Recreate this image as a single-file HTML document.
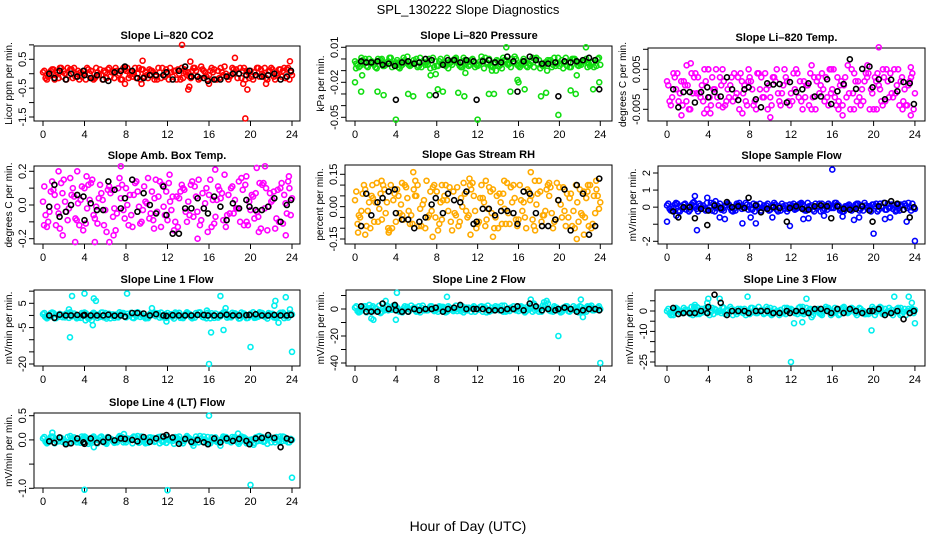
<!DOCTYPE html>
<html><head><meta charset="utf-8"><title>SPL_130222 Slope Diagnostics</title>
<style>
html,body{margin:0;padding:0;background:#fff;}
svg{display:block;font-family:"Liberation Sans",Arial,sans-serif;}
</style></head>
<body>
<svg id="chart" width="936" height="540" viewBox="0 0 936 540" xmlns="http://www.w3.org/2000/svg">
<rect x="0" y="0" width="936" height="540" fill="#fff"/>
<text x="468" y="14" font-size="13" text-anchor="middle">SPL_130222  Slope Diagnostics</text>
<text x="468" y="531" font-size="14" text-anchor="middle">Hour of Day (UTC)</text>
</svg>
<script>
const hoursA=[0,0.5,1,1.5,2,2.5,3,3.5,4,4.5,5,5.5,6,6.5,7,7.5,8,8.5,9,9.5,10,10.5,11,11.5,12,12.5,13,13.5,14,14.5,15,15.5,16,16.5,17,17.5,18,18.5,19,19.5,20,20.5,21,21.5,22,22.5,23,23.5,24];
const hoursB=[0.25,0.75,1.25,1.75,2.25,2.75,3.25,3.75,4.25,4.75,5.25,5.75,6.25,6.75,7.25,7.75,8.25,8.75,9.25,9.75,10.25,10.75,11.25,11.75,12.25,12.75,13.25,13.75,14.25,14.75,15.25,15.75,16.25,16.75,17.25,17.75,18.25,18.75,19.25,19.75,20.25,20.75,21.25,21.75,22.25,22.75,23.25,23.75];
const hoursC=[0.125,0.625,1.125,1.625,2.125,2.625,3.125,3.625,4.125,4.625,5.125,5.625,6.125,6.625,7.125,7.625,8.125,8.625,9.125,9.625,10.125,10.625,11.125,11.625,12.125,12.625,13.125,13.625,14.125,14.625,15.125,15.625,16.125,16.625,17.125,17.625,18.125,18.625,19.125,19.625,20.125,20.625,21.125,21.625,22.125,22.625,23.125,23.625];
const hoursD=[0.375,0.875,1.375,1.875,2.375,2.875,3.375,3.875,4.375,4.875,5.375,5.875,6.375,6.875,7.375,7.875,8.375,8.875,9.375,9.875,10.375,10.875,11.375,11.875,12.375,12.875,13.375,13.875,14.375,14.875,15.375,15.875,16.375,16.875,17.375,17.875,18.375,18.875,19.375,19.875,20.375,20.875,21.375,21.875,22.375,22.875,23.375,23.875];
const blackHours=[0.6,1.1,1.6,2.2,2.7,3.3,3.9,4.0,4.6,5.2,5.8,6.3,6.9,7.5,7.9,8.6,9.1,9.7,10.3,10.9,11.6,11.9,12.5,13.1,13.7,14.3,14.9,15.5,15.9,16.5,17.1,17.7,18.3,18.9,19.6,19.9,20.5,21.1,21.7,22.3,22.9,23.5,23.9];
const xTicks=[0,4,8,12,16,20,24];

const co2BandA=[0.05,-0.1,0.15,-0.15,0.1,-0.05,0.2,-0.2,0.1,0,-0.15,0.15,0.05,-0.1,0.2,-0.2,0.1,0.05,-0.15,0.15,-0.05,0.1,-0.2,0.2,0,-0.1,0.15,-0.15,0.05,0.2,-0.2,0.1,-0.05,0.15,-0.15,0.25,-0.1,0.05,0.2,-0.2,0.1,-0.05,0.15,-0.15,0.2,0,-0.1,0.15,-0.05];
const co2BandB=[-0.15,0.1,-0.05,0.2,-0.2,0.15,0,-0.1,0.2,-0.15,0.05,-0.2,0.15,0.1,-0.05,0.2,-0.15,0,0.2,-0.1,0.15,-0.2,0.05,-0.1,0.2,0.1,-0.2,0.05,-0.15,0.1,0.25,-0.1,0.2,-0.2,0.05,-0.1,0.2,-0.15,0.1,0.05,-0.2,0.2,-0.05,0.1,-0.1,0.15,0.2,-0.2];
const co2BandC=[0.1,-0.05,-0.2,0.2,0,0.15,-0.1,0.05,-0.2,0.1,0.2,-0.05,-0.15,0.05,0.1,-0.2,0.2,-0.1,0,0.15,-0.15,0.05,0.2,-0.05,-0.2,0.1,0,0.15,-0.1,0.2,-0.15,0.05,0.1,-0.2,0.2,0,-0.05,0.15,-0.15,0.1,-0.1,0.2,0,-0.2,0.15,-0.05,0.1,0.2];
const co2BandD=[-0.2,0.15,0.05,-0.1,0.2,-0.15,0.1,0,0.15,-0.2,-0.05,0.1,0.2,-0.15,0,0.15,-0.05,0.2,-0.2,0.05,0.1,-0.1,-0.15,0.15,0.05,-0.2,0.2,-0.05,0.1,-0.1,0.15,-0.2,0.05,0.1,-0.05,-0.2,0.15,0,0.2,-0.15,0.05,-0.1,0.2,0.1,-0.2,0.15,-0.15,0.05];
const co2Black=[0,-0.15,0.1,-0.2,0,-0.1,0.1,-0.05,-0.15,-0.05,-0.2,-0.25,0.05,0.1,0.25,0.1,-0.15,-0.15,-0.05,-0.05,-0.05,0.05,-0.2,0.1,0.25,-0.1,-0.1,-0.15,-0.25,-0.2,-0.2,-0.1,0,0,-0.05,0.1,-0.05,-0.1,-0.05,0,-0.2,-0.1,0.1];
const co2Out=[[13.4,1.0],[19.5,-1.55],[9.6,0.45],[14.2,0.42],[18.5,0.55],[14,-0.55],[14.1,-0.45],[19.7,-0.55],[23.8,0.43],[9.5,-0.35],[21.5,-0.35],[7.9,-0.35],[16,-0.35],[19.3,-0.35]];

const presBandA=[-0.002,-0.006,0,-0.004,-0.007,-0.001,-0.005,0.001,-0.003,-0.006,-0.002,-0.005,0,-0.007,-0.003,-0.001,-0.006,-0.004,0.001,-0.005,-0.002,-0.007,-0.003,0,-0.006,-0.001,-0.004,-0.007,-0.002,0.001,-0.005,-0.003,-0.006,0,-0.004,-0.007,-0.001,-0.005,-0.002,0.001,-0.006,-0.003,-0.007,0,-0.004,-0.002,-0.006,-0.001,-0.005];
const presBandB=[-0.005,-0.001,-0.007,-0.003,0,-0.006,-0.002,-0.004,-0.007,0.001,-0.005,-0.001,-0.006,-0.003,0,-0.007,-0.002,-0.005,-0.004,0,-0.006,-0.001,-0.005,-0.007,-0.002,0.001,-0.006,-0.003,-0.005,-0.001,-0.007,0,-0.004,-0.006,-0.002,0.001,-0.005,-0.003,-0.007,-0.004,-0.001,-0.006,0,-0.005,-0.002,-0.007,-0.003,0];
const presBandC=[-0.004,0.001,-0.006,-0.002,-0.008,0,-0.003,-0.007,-0.001,-0.005,0.002,-0.004,-0.007,-0.002,-0.005,0.001,-0.006,-0.003,-0.008,-0.001,-0.004,0.001,-0.006,-0.002,-0.005,-0.008,0,-0.003,-0.006,-0.001,-0.004,0.002,-0.007,-0.002,-0.005,0,-0.008,-0.003,-0.001,-0.006,-0.004,0.001,-0.007,-0.002,-0.005,0,-0.003,-0.006];
const presBandD=[-0.007,-0.003,0,-0.005,-0.002,-0.006,0.001,-0.004,-0.008,-0.001,-0.006,-0.003,0.001,-0.005,-0.008,-0.002,0,-0.006,-0.003,0.001,-0.007,-0.004,-0.001,-0.005,0.002,-0.003,-0.006,-0.001,-0.008,-0.004,0,-0.005,-0.002,-0.007,0.001,-0.004,-0.006,-0.001,-0.005,0.001,-0.008,-0.003,0,-0.006,-0.002,-0.004,-0.007,0.001];
const presBlack=[-0.002,-0.003,-0.003,-0.002,-0.005,-0.004,-0.006,-0.035,-0.003,-0.002,-0.004,-0.003,0,-0.001,-0.031,-0.005,-0.001,-0.001,-0.003,-0.001,-0.002,-0.035,-0.002,-0.001,-0.003,-0.003,0.002,-0.002,-0.028,-0.002,0.002,-0.001,-0.004,-0.004,-0.003,-0.032,-0.002,-0.003,-0.002,-0.001,0.001,-0.001,-0.026];
const presOut=[[0,-0.02],[0.1,-0.008],[0.6,-0.028],[0.7,-0.014],[2.2,-0.028],[2.8,-0.031],[4,-0.052],[4.3,-0.003],[5.2,-0.03],[5.7,-0.032],[7.3,-0.031],[7.4,-0.014],[7.9,-0.013],[8.1,-0.026],[8.6,-0.028],[10.1,-0.029],[10.7,-0.032],[10.8,-0.012],[12,-0.052],[13.1,-0.03],[13.6,-0.03],[13.4,-0.01],[13.8,-0.01],[14.8,0.01],[15.2,-0.028],[15.9,-0.018],[16.0,-0.02],[16.6,-0.026],[18.2,-0.032],[18.7,-0.029],[18.8,-0.01],[19.9,-0.048],[21.1,-0.027],[21.6,-0.03],[21.7,-0.014],[22.6,0.01],[23.3,-0.026],[23.9,-0.02]];

const tempBandA=[0.002,-0.002,0.004,-0.004,0.001,-0.001,0.003,-0.003,0.005,0,-0.004,0.002,-0.002,0.004,-0.005,0.001,0.003,-0.003,0,0.004,-0.002,0.002,-0.004,0.003,-0.001,0.005,-0.003,0.001,-0.005,0.002,0.004,-0.002,0,0.003,-0.004,0.006,-0.001,0.002,-0.003,0.004,-0.005,0.001,0.003,-0.002,0.005,-0.004,0,0.002,-0.001];
const tempBandB=[-0.003,0.003,-0.001,0.001,-0.005,0.004,-0.002,0.002,-0.004,0.005,0.001,-0.003,0.003,-0.001,0.002,-0.004,0,0.004,-0.002,-0.005,0.003,-0.001,0.001,-0.003,0.004,-0.002,0.002,-0.004,0.003,-0.001,-0.003,0.005,-0.002,0.001,0.003,-0.005,0.002,-0.004,0.004,0,0.002,-0.003,0.005,-0.001,0.001,0.003,-0.004,0.004];
const tempBandC=[0.001,0.004,-0.003,0.002,-0.005,0.003,-0.001,0.005,-0.002,0,0.003,-0.004,0.001,-0.002,0.004,-0.003,0.002,-0.005,0.003,0,-0.004,0.005,-0.001,0.002,-0.003,0.004,-0.005,0.001,-0.002,0.003,0,-0.004,0.005,-0.003,0.001,-0.001,0.004,-0.002,0.002,-0.005,0.003,0,-0.003,0.004,-0.001,0.002,-0.004,0.003];
const tempBandD=[-0.004,0,0.002,-0.003,0.004,-0.001,0.001,-0.005,0.003,-0.002,0.005,0,-0.003,0.003,-0.001,0.002,-0.004,0.004,-0.002,0.001,0.003,-0.003,0.005,-0.004,0,0.002,-0.002,0.004,-0.005,0.001,0.003,-0.001,-0.004,0.002,-0.002,0.005,-0.003,0,0.003,-0.001,0.004,-0.004,0.002,-0.002,0.005,-0.003,0.001,-0.005];
const tempBlack=[0,-0.0045,-0.0007,-0.0007,-0.0033,-0.0007,0.0005,-0.002,-0.0007,-0.0018,0.003,0,-0.0027,0,0.0005,-0.0025,-0.0045,0.0015,0.0012,0.0013,-0.0033,0.0018,-0.0007,0,0.0015,-0.0018,-0.0018,0.0025,-0.0037,-0.0005,0.0013,0.0075,0.0001,0.0051,0.0057,0.0005,0.0025,-0.0025,0.0024,-0.0005,0.0018,0.0015,-0.0037];
const tempOut=[[1.4,-0.0065],[1.9,0.006],[2.3,0.0065],[3.6,-0.006],[4.2,-0.006],[4.0,0.005],[5.4,-0.0045],[7.3,-0.006],[7.9,0.005],[10.0,-0.007],[14.0,0.006],[15.9,0.005],[16.6,-0.005],[17.0,-0.0065],[18.1,-0.005],[19.4,0.006],[20.5,0.0105],[20.9,0.005],[22.8,-0.005],[23.6,0.0055],[23.6,-0.0065],[20.3,-0.005]];

const ambBandA=[0.02,-0.1,0.09,-0.05,0.15,-0.02,0.05,-0.12,0.1,0.03,-0.08,0.12,-0.03,0.07,-0.15,0.04,0.1,-0.06,0.14,-0.1,0.01,0.08,-0.04,0.12,-0.09,0.05,-0.13,0.1,0.02,-0.07,0.15,-0.02,0.06,-0.11,0.09,0.18,-0.05,0.03,-0.1,0.12,-0.03,0.07,-0.14,0.1,0.02,-0.08,0.13,-0.05,0.04];
const ambBandB=[-0.06,0.08,-0.12,0.13,-0.04,0.06,-0.09,0.11,-0.02,0.15,-0.11,0.03,0.09,-0.07,0.1,-0.03,-0.12,0.06,-0.01,0.11,-0.08,0.04,0.14,-0.06,0.02,-0.1,0.08,-0.04,0.12,0.05,-0.09,0.1,-0.13,0.03,0.07,-0.06,0.11,-0.02,0.09,-0.12,0.05,-0.07,0.13,-0.01,0.08,-0.1,0.06,0.1];
const ambBandC=[0.11,-0.04,0.06,-0.14,0.02,0.16,-0.08,0.03,-0.11,0.13,-0.01,0.07,-0.16,0.09,-0.05,0.12,0,-0.13,0.08,-0.03,0.16,-0.09,0.05,-0.01,0.13,-0.15,0.04,0.09,-0.06,0.11,-0.12,0.01,0.15,-0.07,0.04,-0.13,0.1,-0.02,0.16,-0.1,0.06,-0.04,0.12,-0.15,0.03,0.09,-0.11,0.14];
const ambBandD=[-0.13,0.14,-0.01,0.07,-0.09,0.1,0.01,-0.15,0.12,-0.06,0.04,-0.12,0.11,-0.02,0.16,-0.08,0.06,0.13,-0.11,0.02,-0.05,0.15,-0.13,0.08,-0.03,0.05,0.12,-0.1,0.14,-0.04,0.07,-0.16,0.03,0.11,-0.09,0.06,-0.05,0.14,-0.12,0.02,-0.08,0.13,-0.02,0.07,-0.14,0.1,0.01,-0.06];
const ambBlack=[-0.01,0.12,-0.07,-0.04,0,0.06,0.05,-0.09,0.01,-0.03,-0.03,0.14,0.09,-0.02,0.04,0.15,-0.04,0.07,0,-0.05,0.11,-0.06,-0.17,-0.17,-0.02,-0.02,0.04,-0.02,-0.05,0.05,-0.01,-0.09,0.01,-0.02,0.03,-0.01,-0.03,-0.03,-0.01,0.04,-0.1,0,0.03];
const ambOut=[[0.1,-0.12],[1.5,0.2],[1.9,-0.18],[3.1,-0.22],[3.3,0.2],[4.2,0.17],[5,-0.22],[6.4,-0.22],[7.5,0.23],[6.8,-0.18],[12.2,0.18],[14.9,-0.2],[16.6,0.21],[19.6,0.17],[20.6,0.22],[21.4,0.23],[20.8,-0.16],[23.4,-0.18],[23.7,0.17],[10.7,-0.14]];

const rhBandA=[0.03,-0.05,0.08,-0.1,0.02,0.06,-0.03,0.1,-0.07,0.01,0.09,-0.04,0.05,-0.09,0.12,-0.02,0.07,-0.06,0.03,-0.11,0.09,0,-0.05,0.11,-0.08,0.04,-0.01,0.08,-0.1,0.06,-0.03,0.1,-0.06,0.02,0.07,-0.09,0.12,-0.04,0.05,-0.07,0.09,-0.02,0.04,-0.1,0.08,-0.05,0.1,-0.03,0.02];
const rhBandB=[-0.08,0.06,-0.02,0.04,-0.07,0.1,-0.1,0.03,0.05,-0.06,-0.02,0.08,-0.09,0.03,-0.04,0.1,-0.08,0.05,0.09,-0.03,-0.07,0.06,0.1,-0.02,0.04,-0.09,0.07,-0.05,0.02,-0.08,0.09,-0.06,0.03,-0.1,0.05,0.01,-0.07,0.08,-0.03,0.11,-0.05,0.06,-0.09,0.02,-0.04,0.07,-0.08,0.05];
const rhBandC=[0.07,-0.02,-0.09,0.05,0.11,-0.06,0.02,-0.1,0.08,-0.04,0.04,-0.08,0.1,0.01,-0.05,0.09,-0.11,0.03,-0.02,0.07,-0.09,0.11,-0.04,0.05,-0.07,0.02,0.09,-0.1,0.06,-0.01,-0.08,0.04,0.1,-0.05,0.03,-0.11,0.07,-0.02,0.09,-0.06,0.01,-0.09,0.06,0.1,-0.03,0.04,-0.1,0.08];
const rhBandD=[-0.04,0.1,0.02,-0.07,-0.01,0.08,-0.11,0.06,-0.03,0.1,-0.08,0.05,-0.01,-0.1,0.07,-0.05,0.02,0.1,-0.07,-0.04,0.04,-0.02,0.08,-0.1,0.1,-0.06,-0.03,0.05,-0.08,0.11,0.02,-0.09,-0.02,0.08,-0.06,0.06,-0.04,0.1,-0.1,0.03,0.09,-0.05,-0.02,-0.07,0.07,-0.09,0.05,-0.01];
const rhBlack=[-0.09,0.06,-0.04,0.02,0.04,0.07,0.08,-0.03,-0.06,-0.06,-0.1,-0.07,-0.05,0.01,0.04,-0.03,0.06,0.03,0.02,0.07,-0.08,-0.07,-0.01,-0.01,-0.04,-0.02,-0.02,-0.03,-0.08,0.07,0.06,-0.03,-0.09,-0.09,-0.06,0.03,0.08,-0.11,0.1,0.06,-0.13,-0.09,0.13];
const rhOut=[[0.3,-0.12],[1,-0.13],[1.7,0.1],[2.6,0.12],[3.3,-0.12],[4.6,0.11],[5.7,0.16],[5.9,0.12],[7.6,-0.14],[8.5,0.1],[11.2,0.13],[11.3,-0.13],[12.8,0.12],[13.5,-0.14],[14.6,0.12],[17.2,0.16],[17.6,0.12],[19,0.11],[21.7,-0.15],[22.4,-0.13],[22.8,0.1],[23.6,0.12]];

const sfBandA=[0.1,-0.2,0.2,-0.1,0,0.25,-0.25,0.1,-0.15,0.2,0.05,-0.2,0.15,-0.1,0.25,-0.05,0.1,-0.25,0.2,0,-0.15,0.15,-0.2,0.1,0.05,-0.1,0.25,-0.2,0.1,-0.05,0.2,-0.15,0,0.15,-0.25,0.1,-0.1,0.2,-0.2,0.05,0.15,-0.15,0.25,-0.05,0.1,-0.2,0.2,0,-0.1];
const sfBandB=[-0.1,0.15,-0.25,0.2,-0.15,0.05,0.1,-0.2,0.25,-0.05,-0.15,0.1,-0.2,0.2,-0.1,0.15,-0.15,0.05,-0.05,0.2,0.1,-0.25,0.05,-0.1,0.2,0.15,-0.15,0.05,-0.25,0.2,-0.1,0.1,0.25,-0.2,0.05,-0.05,0.15,-0.1,0.1,-0.25,0.2,0.05,-0.15,0.15,-0.2,0.1,-0.05,0.2];
const sfBandC=[0.2,-0.05,-0.2,0.15,-0.25,0.05,0.2,-0.1,0,-0.25,0.2,0.1,-0.05,-0.2,0.05,0.25,-0.1,0.15,-0.2,0.1,0,-0.15,0.2,-0.25,0.1,-0.05,0.15,0.25,-0.15,0.05,-0.2,0.2,-0.05,0.1,-0.25,0.15,0,-0.2,0.25,-0.1,0.05,0.2,-0.15,0,-0.25,0.15,0.1,-0.2];
const sfBandD=[-0.2,0.25,0.05,-0.15,0.15,-0.1,0,0.25,-0.2,0.1,-0.1,0.2,-0.25,0.15,0,-0.15,0.2,-0.05,0.1,-0.2,0.25,0.05,-0.1,0.15,-0.15,0.2,-0.2,0,0.2,-0.25,0.1,-0.05,0.25,-0.15,0.05,-0.2,0.2,0.1,-0.05,0.15,-0.25,0,0.2,-0.1,0.15,-0.15,0.25,-0.05];
const sfBlack=[-0.25,-0.6,0,0,-0.65,-0.1,-1.05,-0.2,0.1,-0.05,0.3,0,0.05,-0.05,0.55,0.1,-0.3,-0.1,0,-0.05,-0.85,-0.05,0.05,-0.1,-0.15,0.05,0.1,0.05,-0.65,0.05,-0.1,-0.15,-0.1,0.05,-0.2,-0.85,0.05,0.25,0.35,0.2,-0.15,-0.6,0];
const sfOut=[[0,-0.85],[0.9,-0.5],[2.6,0.3],[2.7,0.65],[2.9,-1.35],[3.9,0.55],[4.7,0.35],[5.1,-0.6],[5.6,-0.7],[7.3,-0.95],[8.1,-0.6],[8.6,-0.95],[10.2,-0.6],[11.9,-1.1],[13.2,-0.7],[13.7,-0.65],[15.2,-0.5],[16,2.2],[17.0,-0.55],[18.1,-0.75],[18.6,-0.6],[20,-1.55],[21.1,-0.7],[21.6,-0.6],[23.2,-0.85],[24,-1.98]];

const l1BandA=[0.5,-0.8,1,-0.5,0.2,-1,0.8,-0.3,1.2,-0.9,0.4,-0.6,1,-1.2,0.3,0.7,-0.8,1.1,-0.4,0.6,-1,0.2,0.9,-0.7,1,-0.5,0.4,-1.1,0.8,-0.2,1.2,-0.8,0.5,-1,0.3,1.4,-0.6,0.9,-1.2,0.2,0.7,-0.9,1.1,-0.4,0.6,-1,0.9,-0.3,0.4];
const l1BandB=[-0.6,0.9,-1.1,0.3,0.8,-0.4,-1.2,1,-0.2,0.6,-1,1.2,-0.5,0.4,-0.8,1,-0.2,-1.1,0.9,-0.6,0.3,1.1,-0.9,0.5,-0.3,1.2,-1,0.6,-0.7,1,0.2,-1.2,0.9,-0.4,0.7,-0.9,1.1,-0.3,0.5,-1,1.3,-0.5,0.2,1,-0.8,0.5,-1.1,0.8];
const l1BandC=[1,-0.3,-1.2,0.6,-0.8,1.3,0,-1,0.9,-0.5,0.4,1.2,-1.3,0.2,-0.6,1,0.7,-0.9,1.3,-0.2,-1.1,0.5,0.9,-0.7,0.1,-1.3,1.1,-0.4,0.6,-0.9,1.3,0,-1.2,0.8,-0.3,1,-0.8,0.4,1.2,-1.1,0.2,-0.6,1,-1.3,0.7,-0.2,1.2,-0.9];
const l1BandD=[-1.2,1.2,0.2,-0.7,1,-0.1,-0.9,0.6,-1.3,1.1,-0.2,-0.8,0.7,-1,1.3,-0.4,0,1,-0.6,-1.2,0.9,-0.3,1.2,-1,0.5,0.8,-0.5,1.3,-1.2,0.3,-0.6,1.1,-0.1,-0.9,1.2,-0.4,0.5,-1.3,0.8,0,-1,1.3,-0.5,0.6,-0.9,1.1,-0.3,0.4];
const l1Black=[0,-1,0.3,0,0,0.2,0,0.2,0,0,0,0.3,-0.1,0,-0.5,1,1,0.8,0,0.5,0,-0.2,0.1,0,0,0,0.2,0.2,0,0,0,0.3,0,0,0.1,0.2,0.5,0,0,0.2,0,0,0.2];
const l1Out=[[0.2,-0.5],[2.5,2.5],[2.6,-9],[2.8,8],[4,9],[4.1,-2],[4.7,-2],[4.8,-4],[4.9,7],[5.1,6],[8.1,9],[10.5,3],[11.9,-2.5],[15.8,2],[16.0,-20],[16.2,-7],[17.1,8],[17.4,-6],[17.6,3],[20,-13],[22.3,4],[22.4,6],[22.7,-3],[23.4,7.5],[23.8,2.5],[24,-15]];

const l2BandA=[1,-2,2,-1,0.5,-2.5,1.5,-0.5,2,-1.5,0,2.5,-2,1,-1,2,-0.5,1.5,-2,0.5,-1.5,2,-1,1,0,-2,2.5,-1,1.5,-2,0.5,2,-1.5,1,-0.5,3,-2,5,-1,2,-1.5,1,-2,0.5,2,-1,1.5,-0.5,0];
const l2BandB=[-1.5,1,-0.5,2,-2,1,-1,2.5,-1.5,0.5,-2,1,2,-1,0.5,-1.5,2,-2,1,-0.5,2,-1,0.5,-2,1.5,1,-1.5,2,-0.5,-2,1,-1,2,-1.5,0.5,1.5,-2,6,-1,1,-2,2,-0.5,1,-1.5,2,-1,1];
const l2BandC=[2,-1,-2.5,1,0,-2,2.5,-0.5,1,-2.5,1.5,0,-1.5,2.5,-1,0.5,-2,1.5,2,-1.5,0,-2.5,1,2,-0.5,1.5,-2,0.5,-1,2.5,-1.5,0,1.5,-2.5,2,-1,0.5,3,-1.5,1,-2.5,2,0,-1,1.5,-2,2.5,-0.5];
const l2BandD=[-2.5,2,0.5,-1.5,2.5,-1,0,1.5,-2,2,-0.5,1,-2.5,0,2,-1,1.5,-2.5,-0.5,2.5,-1.5,1,-2,0.5,2,-2.5,1,-0.5,2.5,-1.5,0,2,-1,1.5,-2,0.5,2.5,4,-2,-0.5,1,-1.5,2,-2.5,0.5,1.5,-1,2];
const l2Black=[2,-2,-2,-2,4,0,3,-1,-2,-2,0,-1,0,0,1,-2,0,1,3,0,0,0,0,-1,-1,-1,0,0,2,-1,4,2,-1,0,-1,0,1,0,-2,-1,0,0,-1];
const l2Out=[[1.4,3],[1.6,-7],[1.8,-8],[3,6],[4,-8],[4.1,12],[9,9],[17.2,7],[17.5,4],[19.9,-20],[22.1,7],[22.3,-6],[24,-40],[2.5,-3]];

const l3BandA=[0,-1.5,1,-1,0.5,-2,1.5,-0.5,1,-1.5,0,1.5,-1,0.5,-0.5,1,-1.5,1,0,-1,1.5,-0.5,0.5,-1.5,1,0,-1,1.5,-0.5,0.5,-2,1,-1,0.5,1.5,-1,1,-0.5,0,-1.5,1,0.5,-1,1.5,-0.5,0,1,-1,0.5];
const l3BandB=[-1,1,-0.5,0.5,-1.5,1,-1,1.5,-0.5,0.5,-1,0,1,-1.5,0.5,-0.5,1.5,-1,0.5,1,-1.5,0,-1,1,-0.5,1.5,-1.5,0.5,0,-1,1,-0.5,1.5,-1.5,0,0.5,-1,1,-1.5,0.5,-0.5,1.5,-1,0.5,1,-1.5,0,1];
const l3BandC=[1,-2,0,1.5,-1,2,-1.5,0.5,-2,1,0,-1.5,2,-0.5,1,-2,1.5,-1,0.5,2,-2,0,-1,1.5,0.5,-1.5,2,-0.5,-2,1,0,1.5,-1,-2,2,-0.5,0.5,1.5,-1.5,0,-2,2,1,-1,-0.5,1.5,-2,0.5];
const l3BandD=[-2,1.5,-0.5,0,2,-1.5,1,-1,1.5,-0.5,2,0.5,-2,1,-1,0,-0.5,2,-1.5,-1,1,-2,1.5,0,-1,2,-0.5,1,0.5,-1.5,2,-2,0.5,1,-0.5,1.5,-2,0,-1,2,1,-1.5,0,-2,1.5,-0.5,1,-1];
const l3Black=[1.5,-1.5,-1,-1,-1,0,-1,2,8,4,-2,0,0,0,-1,0,0,0,-1,-1,0,-1,0,0,-1,1,1,0,-1,1,-1,1,0,-1,0,0,1,-2,-1,0,-4,-1,0];
const l3Out=[[2.7,3],[2.9,2],[3.9,4],[4.0,6],[5.1,6],[7.8,7],[12,-25],[12.3,-6],[13.1,-5.5],[13.5,6],[14,-3],[19.8,-9.5],[22,7],[22.6,-2],[23.4,7],[23.7,4],[24,-6],[2.4,-1]];

const l4BandA=[0.03,-0.05,0.06,-0.03,0.01,-0.07,0.05,-0.02,0.07,-0.04,0,0.05,-0.06,0.02,-0.03,0.06,-0.05,0.03,-0.01,0.07,-0.06,0.02,0.04,-0.04,0.06,-0.02,0.03,-0.07,0.05,0,-0.05,0.07,-0.03,0.02,-0.06,0.05,-0.01,0.06,-0.04,0.03,-0.07,0.05,-0.02,0.04,-0.05,0.06,-0.03,0.02,0];
const l4BandB=[-0.04,0.06,-0.02,0.04,-0.06,0.03,-0.05,0.07,-0.01,0.05,-0.07,0.02,0.06,-0.03,0.04,-0.05,0.01,0.07,-0.06,0.02,0.05,-0.04,-0.07,0.03,-0.01,0.06,-0.05,0.04,-0.02,0.07,0.03,-0.06,0.05,-0.04,0.02,-0.02,0.06,-0.05,0.04,-0.06,0.01,0.07,-0.04,0.05,0,-0.03,0.06,-0.05];
const l4BandC=[0.06,-0.02,-0.07,0.04,-0.04,0.08,0,-0.06,0.05,-0.03,0.02,0.07,-0.08,0.01,-0.05,0.06,0.03,-0.07,0.08,-0.01,-0.06,0.04,0.06,-0.03,0,-0.08,0.07,-0.02,0.03,-0.06,0.08,0.01,-0.07,0.05,-0.04,0.06,-0.05,0.02,0.07,-0.07,0.01,-0.03,0.06,-0.08,0.04,-0.01,0.07,-0.05];
const l4BandD=[-0.07,0.07,0.01,-0.04,0.06,-0.01,-0.05,0.04,-0.08,0.07,-0.01,-0.05,0.04,-0.06,0.08,-0.02,0,0.06,-0.04,-0.07,0.05,-0.02,0.07,-0.06,0.03,0.05,-0.03,0.08,-0.07,0.02,-0.04,0.06,-0.01,-0.05,0.07,-0.02,0.03,-0.08,0.05,0,-0.06,0.08,-0.03,0.04,-0.05,0.07,-0.02,0.02];
const l4Black=[-0.03,-0.06,0.05,-0.09,-0.07,0.03,-0.05,-0.08,0.03,-0.06,-0.04,0.05,-0.01,0.03,0.02,0,-0.03,0.06,-0.04,0.03,0.07,0.1,0.05,-0.08,0.02,-0.04,0,-0.05,-0.09,0.03,-0.05,0.03,-0.02,0.02,-0.02,-0.09,0.03,0.04,0.1,0.04,-0.15,0.03,0];
const l4Out=[[0.9,0.15],[4,-1.03],[4.9,-0.15],[12,-1.04],[11.9,-0.06],[16,0.5],[17.1,-0.12],[20,-0.93],[20.3,-0.1],[24,-0.78],[14.5,-0.12],[7.8,0.12],[18.8,0.13]];

const co2Ticks=[1,0.5,0,-0.5,-1,-1.5], co2Labels=["","0.5","","-0.5","","-1.5"];
const presTicks=[0.01,0,-0.01,-0.02,-0.03,-0.04,-0.05], presLabels=["0.01","","","-0.02","","","-0.05"];
const tempTicks=[0.01,0.005,0,-0.005,-0.01], tempLabels=["","0.005","","-0.005",""];
const ambTicks=[0.2,0.1,0,-0.1,-0.2], ambLabels=["0.2","","0.0","","-0.2"];
const rhTicks=[0.15,0.1,0.05,0,-0.05,-0.1,-0.15], rhLabels=["0.15","","","0.00","","","-0.15"];
const sfTicks=[2,1,0,-1,-2], sfLabels=["2","1","0","","-2"];
const l1Ticks=[10,5,0,-5,-10,-15,-20], l1Labels=["","5","","-5","","","-20"];
const l2Ticks=[10,0,-10,-20,-30,-40], l2Labels=["","0","","-20","","-40"];
const l3Ticks=[5,0,-5,-10,-15,-20,-25], l3Labels=["","0","","-10","","","-25"];
const l4Ticks=[0.5,0,-0.5,-1], l4Labels=["0.5","0.0","","-1.0"];

const NS="http://www.w3.org/2000/svg";
const svg=document.getElementById('chart');
function mk(tag,attrs,parent){const e=document.createElementNS(NS,tag);for(const k in attrs)e.setAttribute(k,attrs[k]);(parent||svg).appendChild(e);return e;}

function panel(p){
  const g=mk('g',{});
  
  
  const xs=h=>p.x0+h*p.xk;
  const ys=v=>p.yv0+(p.yvTop-v)*(p.yv1-p.yv0)/(p.yvTop-p.yvBot);
  const title=mk('text',{x:(p.L+p.R)/2,y:p.T-7,'font-size':11,'font-weight':'bold','text-anchor':'middle'},g);
  title.textContent=p.title;
  
  
  const box=mk('rect',{x:p.L,y:p.T,width:p.R-p.L,height:p.B-p.T,fill:'none',stroke:'#000','stroke-width':1},g);
  
  
  const xa=mk('g',{},g);
  
  
  xTicks.forEach(t=>{
    mk('line',{x1:xs(t),x2:xs(t),y1:p.B,y2:p.B+5,stroke:'#000'},xa);
    const tx=mk('text',{x:xs(t),y:p.B+17,'font-size':11,'text-anchor':'middle'},xa);tx.textContent=t;
  });
  const ya=mk('g',{},g);
  
  
  p.ticks.forEach((t,i)=>{
    const y=ys(t);
    if(y<p.T-2||y>p.B+2)return;
    mk('line',{x1:p.L-5,x2:p.L,y1:y,y2:y,stroke:'#000'},ya);
    if(p.labels[i]){const tx=mk('text',{x:p.L-8,y:y,'font-size':11,'text-anchor':'middle',transform:`rotate(-90 ${p.L-8} ${y})`},ya);tx.textContent=p.labels[i];}
  });
  const yt=mk('text',{x:p.L-22,y:(p.T+p.B)/2,'font-size':10,'text-anchor':'middle',transform:`rotate(-90 ${p.L-22} ${(p.T+p.B)/2})`},g);
  yt.textContent=p.ylab;
  
  
  const sg=mk('g',{fill:'none',stroke:p.color,'stroke-width':1.6},g);
  
  
  [[p.bandA,hoursA],[p.bandB,hoursB],[p.bandC,hoursC],[p.bandD,hoursD]].forEach(pair=>{
    const vals=pair[0], hrs=pair[1];
    vals.forEach((v,i)=>{ if(hrs[i]===undefined)return;
      const c=mk('circle',{cx:xs(hrs[i]),cy:ys(v),r:2.5},sg);
      
      });
  });
  p.out.forEach(d=>{
    const c=mk('circle',{cx:xs(d[0]),cy:ys(d[1]),r:2.5},sg);
    
    });
  const bg=mk('g',{fill:'none',stroke:'#000','stroke-width':1.6},g);
  
  
  p.black.forEach((v,i)=>{ if(blackHours[i]===undefined)return;
    const c=mk('circle',{cx:xs(blackHours[i]),cy:ys(v),r:2.5},bg);
    
    });
}

const C1={L:34,R:300,x0:43,xk:10.375}, C2={L:346,R:612,x0:355,xk:10.22}, C3={R:925,x0:667,xk:10.33};
panel({name:'co2',title:'Slope Li\u2013820 CO2',ylab:'Licor ppm per min.',color:'#ff0000',...C1,T:46,B:121,yvTop:0.5,yvBot:-1.5,yv0:59.3,yv1:117,ticks:co2Ticks,labels:co2Labels,bandA:co2BandA,bandB:co2BandB,bandC:co2BandC,bandD:co2BandD,black:co2Black,out:co2Out});
panel({name:'pressure',title:'Slope Li\u2013820 Pressure',ylab:'kPa per min.',color:'#11dd11',...C2,T:46,B:121,yvTop:0.01,yvBot:-0.05,yv0:47.3,yv1:117.3,ticks:presTicks,labels:presLabels,bandA:presBandA,bandB:presBandB,bandC:presBandC,bandD:presBandD,black:presBlack,out:presOut});
panel({name:'li820-temp',title:'Slope Li\u2013820 Temp.',ylab:'degrees C per min.',color:'#ff00ff',...C3,L:648,T:48,B:121,yvTop:0.005,yvBot:-0.005,yv0:69.3,yv1:109.3,ticks:tempTicks,labels:tempLabels,bandA:tempBandA,bandB:tempBandB,bandC:tempBandC,bandD:tempBandD,black:tempBlack,out:tempOut});
panel({name:'amb-box-temp',title:'Slope Amb. Box Temp.',ylab:'degrees C per min.',color:'#ff00ff',...C1,T:166,B:244,yvTop:0.2,yvBot:-0.2,yv0:171.3,yv1:238.7,ticks:ambTicks,labels:ambLabels,bandA:ambBandA,bandB:ambBandB,bandC:ambBandC,bandD:ambBandD,black:ambBlack,out:ambOut});
panel({name:'gas-stream-rh',title:'Slope Gas Stream RH',ylab:'percent per min.',color:'#ffaa00',...C2,L:345,T:165,B:244,yvTop:0.15,yvBot:-0.15,yv0:174.3,yv1:239,ticks:rhTicks,labels:rhLabels,bandA:rhBandA,bandB:rhBandB,bandC:rhBandC,bandD:rhBandD,black:rhBlack,out:rhOut});
panel({name:'sample-flow',title:'Slope Sample Flow',ylab:'mV/min per min.',color:'#0000ff',...C3,L:658,T:166,B:244,yvTop:2,yvBot:-2,yv0:173,yv1:241.3,ticks:sfTicks,labels:sfLabels,bandA:sfBandA,bandB:sfBandB,bandC:sfBandC,bandD:sfBandD,black:sfBlack,out:sfOut});
panel({name:'line1-flow',title:'Slope Line 1 Flow',ylab:'mV/min per min.',color:'#00eeee',...C1,T:290,B:366,yvTop:5,yvBot:-20,yv0:303.3,yv1:364,ticks:l1Ticks,labels:l1Labels,bandA:l1BandA,bandB:l1BandB,bandC:l1BandC,bandD:l1BandD,black:l1Black,out:l1Out});
panel({name:'line2-flow',title:'Slope Line 2 Flow',ylab:'mV/min per min.',color:'#00eeee',...C2,T:290,B:366,yvTop:0,yvBot:-40,yv0:309,yv1:363,ticks:l2Ticks,labels:l2Labels,bandA:l2BandA,bandB:l2BandB,bandC:l2BandC,bandD:l2BandD,black:l2Black,out:l2Out});
panel({name:'line3-flow',title:'Slope Line 3 Flow',ylab:'mV/min per min.',color:'#00eeee',...C3,L:655,T:290,B:366,yvTop:0,yvBot:-25,yv0:311,yv1:362,ticks:l3Ticks,labels:l3Labels,bandA:l3BandA,bandB:l3BandB,bandC:l3BandC,bandD:l3BandD,black:l3Black,out:l3Out});
panel({name:'line4-flow',title:'Slope Line 4 (LT) Flow',ylab:'mV/min per min.',color:'#00eeee',...C1,T:413,B:488,yvTop:0.5,yvBot:-1,yv0:415.7,yv1:488.3,ticks:l4Ticks,labels:l4Labels,bandA:l4BandA,bandB:l4BandB,bandC:l4BandC,bandD:l4BandD,black:l4Black,out:l4Out});
</script>
</body></html>
